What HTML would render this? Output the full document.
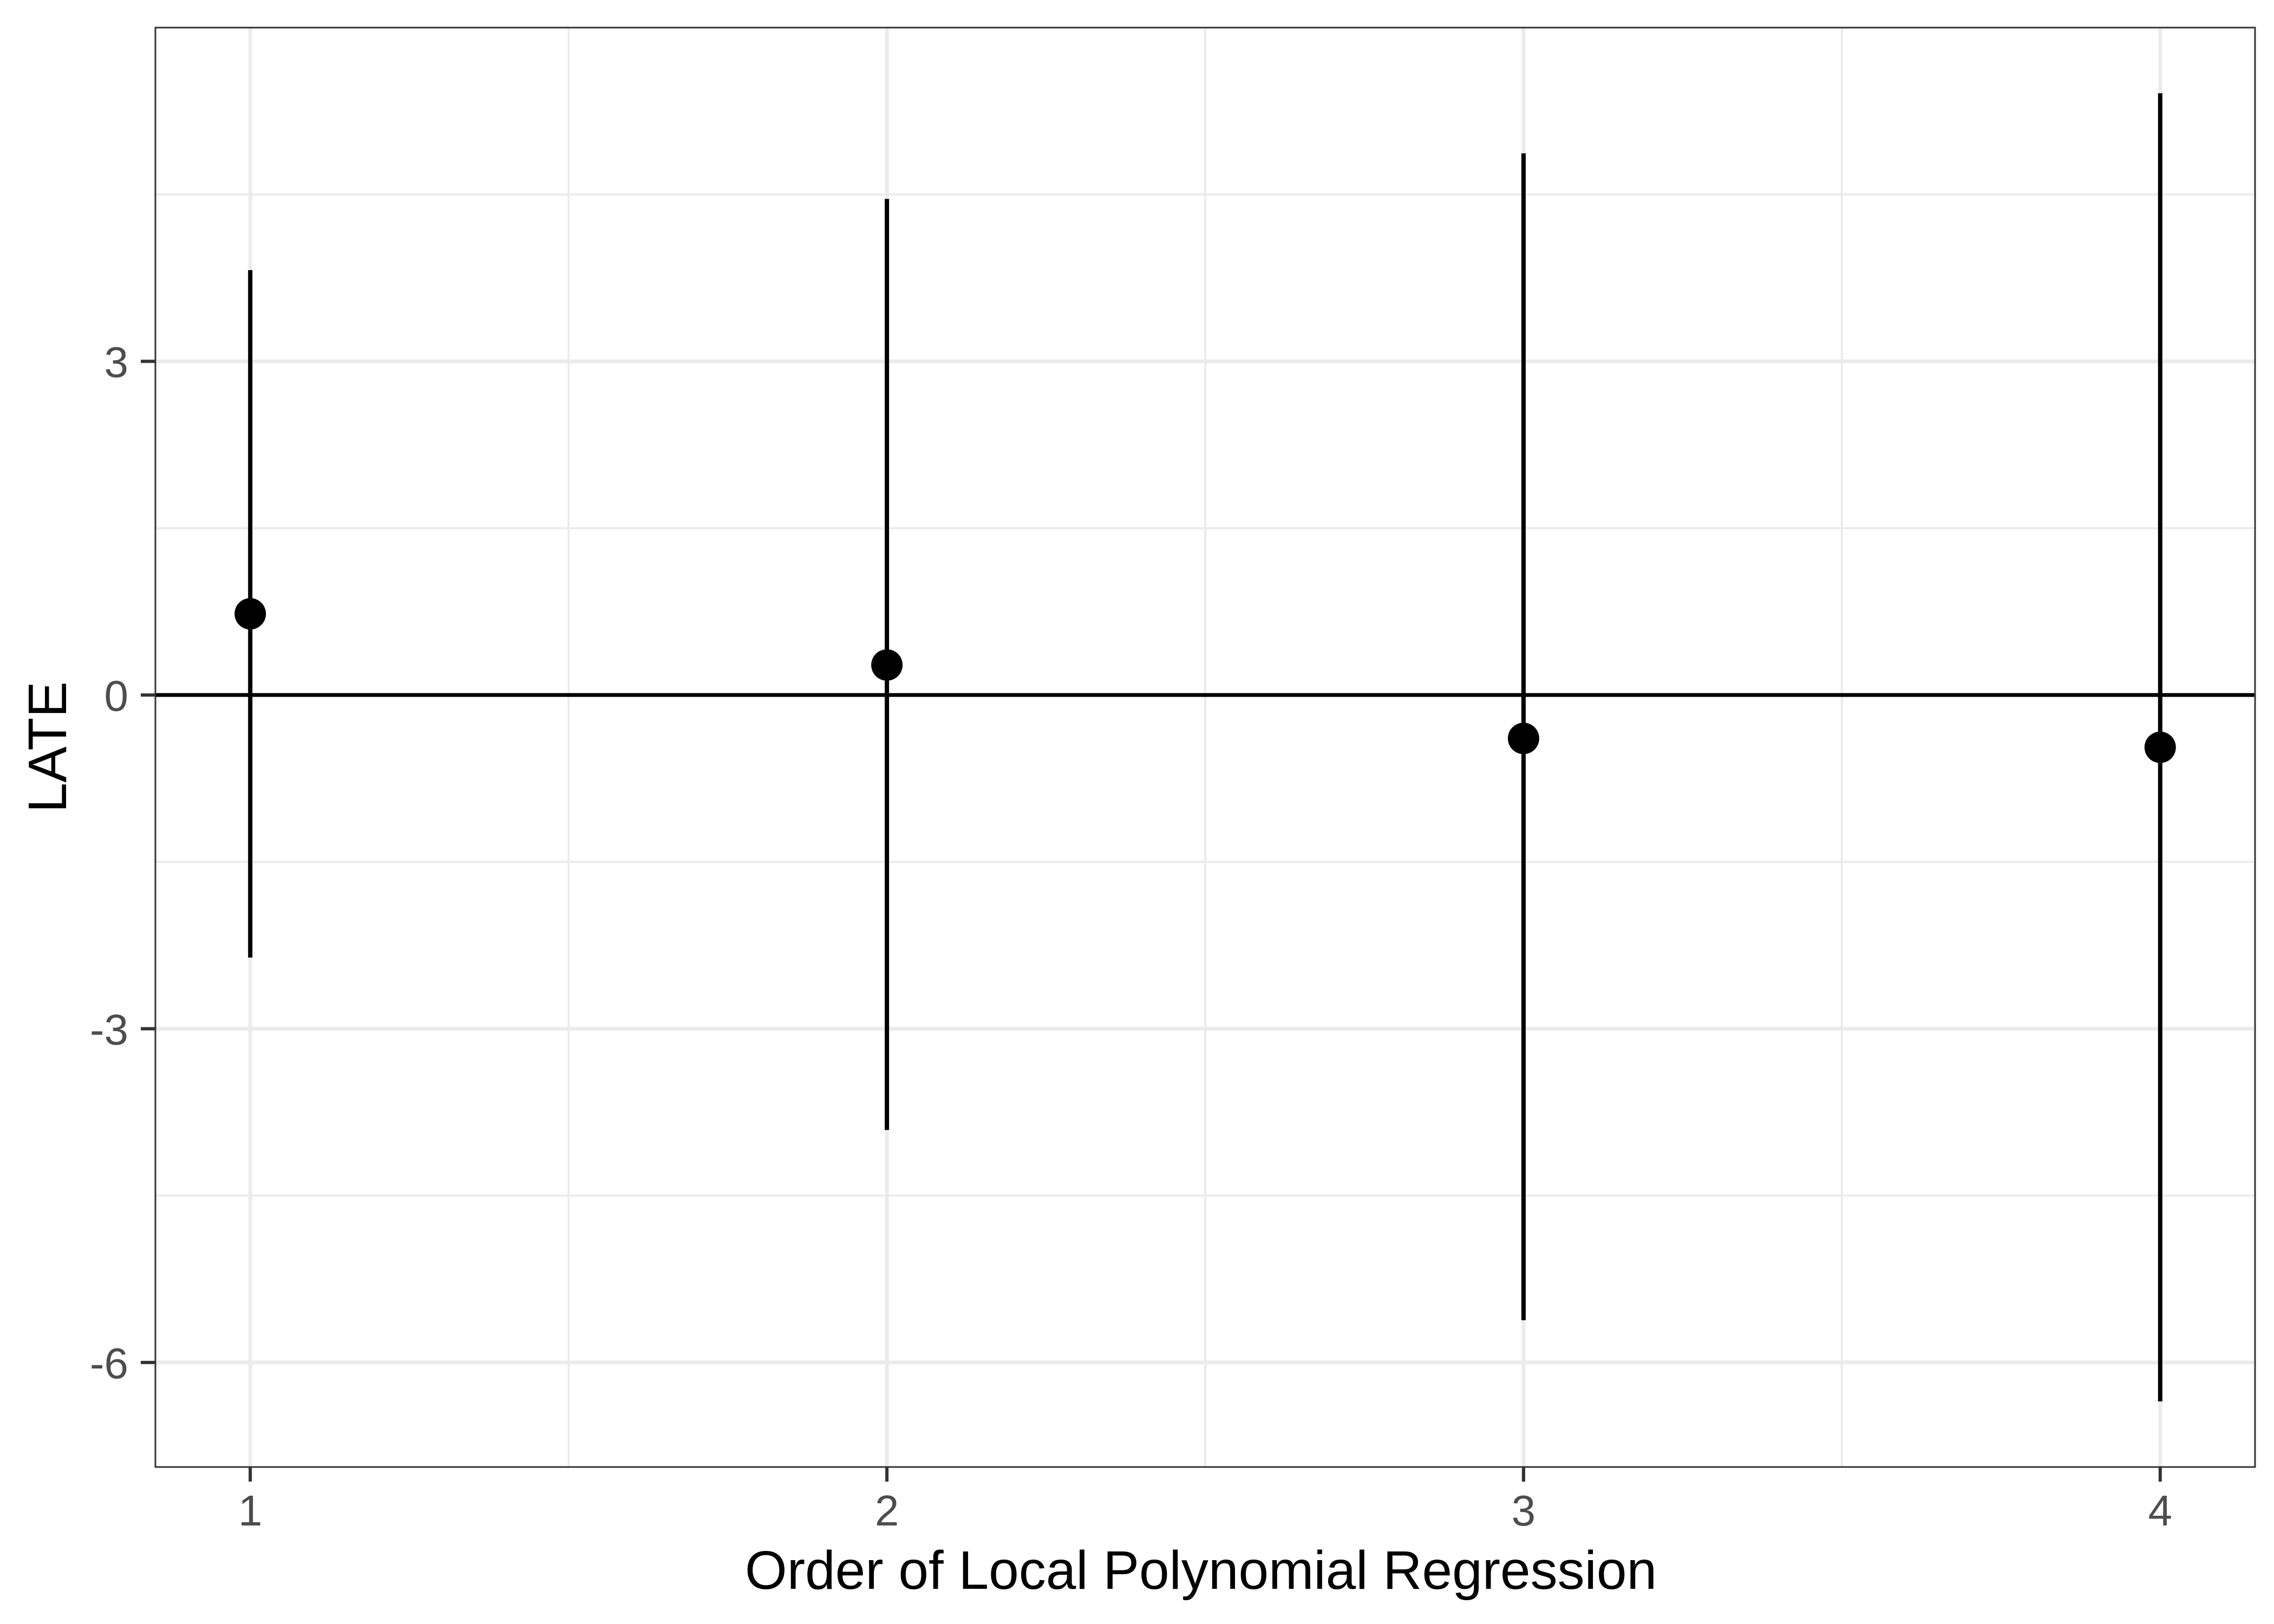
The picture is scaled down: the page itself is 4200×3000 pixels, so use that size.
<!DOCTYPE html>
<html><head><meta charset="utf-8"><style>
html,body{margin:0;padding:0;background:#fff;}
svg{display:block;font-family:"Liberation Sans",Arial,sans-serif;}
</style></head><body>
<svg id="chart" width="4200" height="3000" viewBox="0 0 4200 3000" xmlns="http://www.w3.org/2000/svg">
<rect width="4200" height="3000" fill="#fff"/>
<g id="grid"></g>
<g id="marks"></g>
<g id="axes"></g>
<text x="2218" y="2935" font-size="100" text-anchor="middle" fill="#000">Order of Local Polynomial Regression</text>
<text transform="translate(122,1380) rotate(-90)" font-size="100" text-anchor="middle" fill="#000">LATE</text>
</svg>
<script>
const categories = [1, 2, 3, 4];
const estimates = [0.73, 0.27, -0.39, -0.47];
const upper = [3.82, 4.46, 4.87, 5.41];
const lower = [-2.36, -3.91, -5.62, -6.35];
const yTicks = [-6, -3, 0, 3];
const yTickLabels = ["-6", "-3", "0", "3"];
const xTickLabels = ["1", "2", "3", "4"];

const L = 287, R = 4165, T = 51, B = 2710;
const xMin = 0.851, xMax = 4.149, yMin = -6.94, yMax = 6.0;
function sx(v){ return L + (v - xMin) / (xMax - xMin) * (R - L); }
function sy(v){ return B - (v - yMin) / (yMax - yMin) * (B - T); }
const NS = "http://www.w3.org/2000/svg";
function mk(parent, tag, attrs){ const e = document.createElementNS(NS, tag); for (const k in attrs) e.setAttribute(k, attrs[k]); parent.appendChild(e); return e; }
const grid = document.getElementById('grid'), marks = document.getElementById('marks'), axes = document.getElementById('axes');

for (let i = 0; i < yTicks.length - 1; i++) {
  const v = (yTicks[i] + yTicks[i+1]) / 2;
  const l = mk(grid, 'line', {x1:L, x2:R, y1:sy(v), y2:sy(v), stroke:'#ebebeb', 'stroke-width':4});
  
  
}
[yTicks[yTicks.length-1] + 1.5].forEach(v => {
  const l = mk(grid, 'line', {x1:L, x2:R, y1:sy(v), y2:sy(v), stroke:'#ebebeb', 'stroke-width':4});
  
  
});
for (let i = 0; i < categories.length - 1; i++) {
  const v = (categories[i] + categories[i+1]) / 2;
  const l = mk(grid, 'line', {x1:sx(v), x2:sx(v), y1:T, y2:B, stroke:'#ebebeb', 'stroke-width':4});
  
  
}
yTicks.forEach(v => {
  const l = mk(grid, 'line', {x1:L, x2:R, y1:sy(v), y2:sy(v), stroke:'#ebebeb', 'stroke-width':7});
  
  
});
categories.forEach(v => {
  const l = mk(grid, 'line', {x1:sx(v), x2:sx(v), y1:T, y2:B, stroke:'#ebebeb', 'stroke-width':7});
  
  
});
const z = mk(marks, 'line', {x1:L, x2:R, y1:sy(0), y2:sy(0), stroke:'#000', 'stroke-width':7});


categories.forEach((c, i) => {
  const e = mk(marks, 'line', {x1:sx(c), x2:sx(c), y1:sy(upper[i]), y2:sy(lower[i]), stroke:'#000', 'stroke-width':8});
  
  
  const p = mk(marks, 'circle', {cx:sx(c), cy:sy(estimates[i]), r:29, fill:'#000'});
  
  
});
const bd = mk(axes, 'rect', {x:L, y:T, width:R-L, height:B-T, fill:'none', stroke:'#333', 'stroke-width':3});


yTicks.forEach((v, i) => {
  const t = mk(axes, 'line', {x1:L-27, x2:L, y1:sy(v), y2:sy(v), stroke:'#333', 'stroke-width':6});
  
  
  const tx = mk(axes, 'text', {x:L-50, y:sy(v)+29, 'font-size':80, 'text-anchor':'end', fill:'#4d4d4d'});
  tx.textContent = yTickLabels[i];
  
  
});
categories.forEach((v, i) => {
  const t = mk(axes, 'line', {x1:sx(v), x2:sx(v), y1:B, y2:B+27, stroke:'#333', 'stroke-width':6});
  
  
  const tx = mk(axes, 'text', {x:sx(v), y:B+108, 'font-size':80, 'text-anchor':'middle', fill:'#4d4d4d'});
  tx.textContent = xTickLabels[i];
  
  
});
</script>
</body></html>
